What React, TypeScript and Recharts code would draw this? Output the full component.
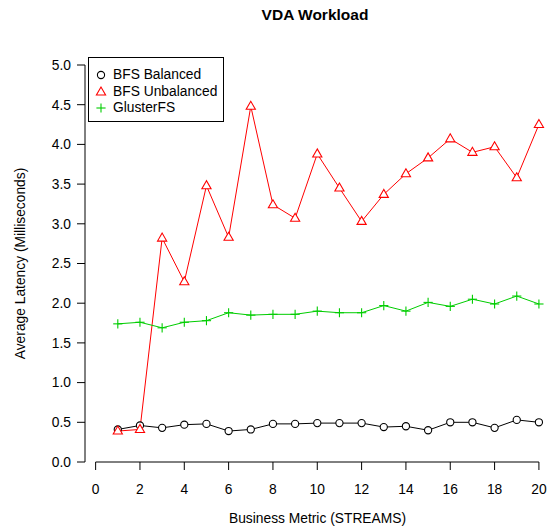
import React from 'react';
import { LineChart, Line, XAxis, YAxis, ReferenceLine } from 'recharts';

// streams on the x axis, latency (ms) per file system
const streams = [1, 2, 3, 4, 5, 6, 7, 8, 9, 10, 11, 12, 13, 14, 15, 16, 17, 18, 19, 20];
const bfsBalanced = [0.41, 0.46, 0.43, 0.47, 0.48, 0.39, 0.41, 0.48, 0.48, 0.49, 0.49, 0.49, 0.44, 0.45, 0.4, 0.5, 0.5, 0.43, 0.53, 0.5];
const bfsUnbalanced = [0.39, 0.41, 2.82, 2.27, 3.48, 2.83, 4.48, 3.24, 3.07, 3.88, 3.45, 3.03, 3.37, 3.63, 3.83, 4.07, 3.9, 3.97, 3.58, 4.25];
const glusterFS = [1.74, 1.76, 1.69, 1.76, 1.78, 1.88, 1.85, 1.86, 1.86, 1.9, 1.88, 1.88, 1.97, 1.9, 2.01, 1.96, 2.05, 1.99, 2.09, 1.99];

const xTicks = [0, 2, 4, 6, 8, 10, 12, 14, 16, 18, 20];
const yTicks = [0, 0.5, 1, 1.5, 2, 2.5, 3, 3.5, 4, 4.5, 5];

const data = streams.map((s, i) => ({
  streams: s,
  balanced: bfsBalanced[i],
  unbalanced: bfsUnbalanced[i],
  gluster: glusterFS[i],
}));

const FONT = '"Liberation Sans", Arial, Helvetica, sans-serif';
const FS = 13.8;

type Shape = 'circle' | 'triangle' | 'plus';

const series: { key: string; name: string; color: string; shape: Shape }[] = [
  { key: 'balanced', name: 'BFS Balanced', color: '#000000', shape: 'circle' },
  { key: 'unbalanced', name: 'BFS Unbalanced', color: '#ff0000', shape: 'triangle' },
  { key: 'gluster', name: 'GlusterFS', color: '#00cd00', shape: 'plus' },
];

const Marker = ({ shape, cx, cy, color }: { shape: Shape; cx: number; cy: number; color: string }) => {
  if (shape === 'circle') {
    return <circle cx={cx} cy={cy} r={3.6} fill="#fff" stroke={color} strokeWidth={1.1} />;
  }
  if (shape === 'triangle') {
    const pts = `${cx},${cy - 5} ${cx - 4.6},${cy + 3} ${cx + 4.6},${cy + 3}`;
    return <polygon points={pts} fill="#fff" stroke={color} strokeWidth={1.1} />;
  }
  return (
    <g stroke={color} strokeWidth={1.1}>
      <line x1={cx - 4.6} y1={cy} x2={cx + 4.6} y2={cy} />
      <line x1={cx} y1={cy - 4.6} x2={cx} y2={cy + 4.6} />
    </g>
  );
};

const makeDot = (shape: Shape, color: string) => (props: any) => (
  <Marker key={`${shape}-${props.index}`} shape={shape} cx={props.cx} cy={props.cy} color={color} />
);

const LegendBox = () => (
  <div
    style={{
      position: 'absolute',
      left: 88,
      top: 57,
      width: 136,
      height: 65,
      border: '1px solid #000',
      background: '#fff',
      boxSizing: 'border-box',
    }}
  >
    {series.map((s, i) => (
      <div key={s.key} style={{ position: 'absolute', left: 0, top: 9 + i * 16.5, height: 16, width: 134 }}>
        <svg width={24} height={16} style={{ position: 'absolute', left: 0, top: 0 }}>
          <Marker shape={s.shape} cx={12} cy={8} color={s.color} />
        </svg>
        <span
          style={{
            position: 'absolute',
            left: 24,
            top: 0,
            lineHeight: '16px',
            fontSize: FS,
            fontFamily: FONT,
            color: '#000',
            whiteSpace: 'nowrap',
          }}
        >
          {s.name}
        </span>
      </div>
    ))}
  </div>
);

export default function App() {
  return (
    <div style={{ position: 'absolute', left: 0, top: 0, width: 552, height: 532, background: '#fff', fontFamily: FONT }}>
      <div
        style={{
          position: 'absolute',
          left: 215,
          top: 6,
          width: 200,
          textAlign: 'center',
          fontSize: 15.5,
          fontWeight: 'bold',
          lineHeight: '18px',
          color: '#000',
        }}
      >
        VDA Workload
      </div>
      <LineChart width={552} height={532} data={data} margin={{ top: 65, right: 2, bottom: 0, left: 0 }}>
        <XAxis
          type="number"
          dataKey="streams"
          domain={[-0.48, 20.5]}
          ticks={xTicks}
          axisLine={false}
          tickLine={{ stroke: '#000' }}
          tickSize={8}
          tickMargin={14}
          height={70}
          tick={{ fill: '#000', fontSize: FS, fontFamily: FONT }}
          label={{
            value: 'Business Metric (STREAMS)',
            position: 'insideBottom',
            offset: 9,
            fill: '#000',
            fontSize: FS,
            fontFamily: FONT,
          }}
        />
        <YAxis
          type="number"
          domain={[0, 5]}
          ticks={yTicks}
          width={85}
          axisLine={{ stroke: '#000' }}
          tickLine={{ stroke: '#000' }}
          tickSize={8}
          tickMargin={6}
          tickFormatter={(v: number) => v.toFixed(1)}
          tick={{ fill: '#000', fontSize: FS, fontFamily: FONT }}
          label={{
            value: 'Average Latency (Milliseconds)',
            angle: -90,
            position: 'insideLeft',
            offset: 20,
            fill: '#000',
            fontSize: FS,
            fontFamily: FONT,
            style: { textAnchor: 'middle' },
          }}
        />
        <ReferenceLine
          segment={[
            { x: 0, y: 0 },
            { x: 20, y: 0 },
          ]}
          stroke="#000"
          ifOverflow="visible"
        />
        {series.map((s) => (
          <Line
            key={s.key}
            type="linear"
            dataKey={s.key}
            name={s.name}
            stroke={s.color}
            strokeWidth={1}
            dot={makeDot(s.shape, s.color)}
            activeDot={false}
            isAnimationActive={false}
          />
        ))}
      </LineChart>
      <LegendBox />
    </div>
  );
}
